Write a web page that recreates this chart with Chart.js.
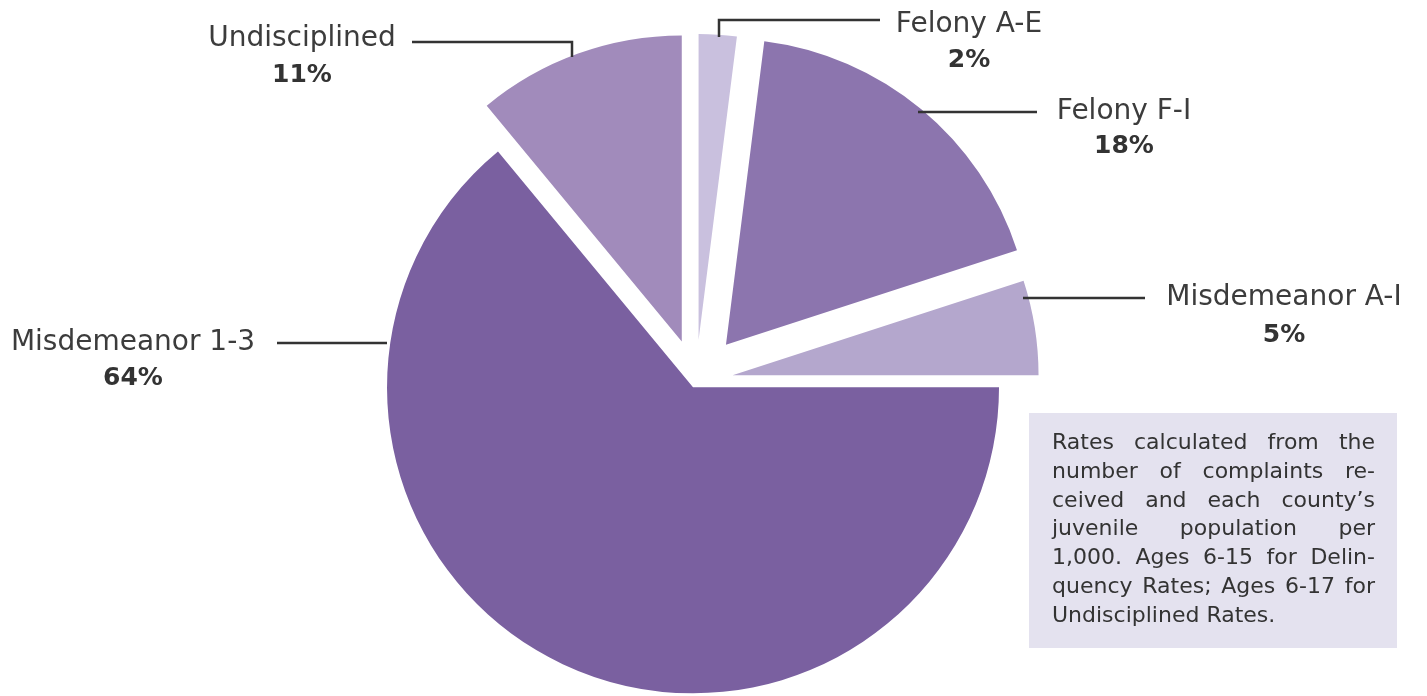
<!DOCTYPE html>
<html>
<head>
<meta charset="utf-8">
<script src="https://cdn.jsdelivr.net/npm/chart.js@4.4.1/dist/chart.umd.min.js"></script>
<style>
  html, body { margin: 0; padding: 0; background: #ffffff; }
  #wrap { width: 1427px; height: 696px; position: relative; }
</style>
</head>
<body>
<div id="wrap"><canvas id="myChart"></canvas></div>
<script>
// complaint shares by offense class, clockwise from 12 o'clock
const categories = ['Felony A-E', 'Felony F-I', 'Misdemeanor A-I', 'Misdemeanor 1-3', 'Undisciplined'];
const shares = [2, 18, 5, 64, 11];

const sliceColors = ['#c9c0de', '#8c75ae', '#b4a7cd', '#7a60a0', '#a18bbb'];
// how far each slice is pulled out, in px (Chart.js moves an arc by offset / 4)
const sliceShifts = [41, 47, 37, 7, 42];
const PIE_RADIUS = 306;

// label anchor (centre x, name baseline, percent baseline) and leader line path
const labelSpots = [
    {x: 969, y: 32, py: 67, line: [[719, 37], [719, 20], [880, 20]]},
    {x: 1124, y: 119, py: 153, line: [[918, 112], [1037, 112]]},
    {x: 1284, y: 305, py: 342, line: [[1023, 298], [1145, 298]]},
    {x: 133, y: 350, py: 385, line: [[277, 343], [387, 343]]},
    {x: 302, y: 46, py: 82, line: [[412, 42], [572, 42], [572, 57]]}
];

const noteLines = [
    'Rates calculated from the',
    'number of complaints re-',
    'ceived and each county\u2019s',
    'juvenile population per',
    '1,000. Ages 6-15 for Delin-',
    'quency Rates; Ages 6-17 for',
    'Undisciplined Rates.'
];

const FONT = '"DejaVu Sans", sans-serif';

// spread the words of one line so it fills the given width
function drawJustified(ctx, text, x, y, width, last) {
    let natural = ctx.measureText(text).width;
    if (last) {
        ctx.fillText(text, x, y);
        return;
    }
    if (natural >= width) {
        ctx.save();
        ctx.translate(x, y);
        ctx.scale(width / natural, 1);
        ctx.fillText(text, 0, 0);
        ctx.restore();
        return;
    }
    let words = text.split(' ');
    let used = 0;
    words.forEach(w => used += ctx.measureText(w).width);
    let gap = (width - used) / (words.length - 1);
    let cx = x;
    words.forEach(w => {
        ctx.fillText(w, cx, y);
        cx += ctx.measureText(w).width + gap;
    });
}

// an offset arc also grows its radius and loses a little angle;
// undo both so every slice keeps one radius and its true share
const keepRadius = {
    id: 'keepRadius',
    afterDatasetUpdate(chart, args) {
        args.meta.data.forEach(arc => {
            const shift = (arc.options.offset || 0) / 4;
            const fix = 1 - Math.sin(Math.min(Math.PI, arc.circumference));
            const grow = shift * fix;
            arc.outerRadius = PIE_RADIUS - grow;
            const widen = grow / Math.PI / PIE_RADIUS / 2;
            arc.startAngle -= widen;
            arc.endAngle += widen;
        });
    }
};

const labelPlugin = {
    id: 'sliceLabels',
    afterDraw(chart) {
        const ctx = chart.ctx;
        ctx.save();

        // leader lines
        ctx.strokeStyle = '#333333';
        ctx.lineWidth = 2.5;
        labelSpots.forEach(s => {
            ctx.beginPath();
            s.line.forEach((p, i) => i === 0 ? ctx.moveTo(p[0], p[1]) : ctx.lineTo(p[0], p[1]));
            ctx.stroke();
        });

        // category names and percentages
        ctx.textAlign = 'center';
        ctx.textBaseline = 'alphabetic';
        labelSpots.forEach((s, i) => {
            ctx.fillStyle = '#3c3c3c';
            ctx.font = '28px ' + FONT;
            ctx.fillText(categories[i], s.x, s.y);
            ctx.fillStyle = '#333333';
            ctx.font = 'bold 25px ' + FONT;
            ctx.fillText(shares[i] + '%', s.x, s.py);
        });

        // note box
        ctx.fillStyle = '#e4e2ef';
        ctx.fillRect(1029, 413, 368, 235);
        ctx.fillStyle = '#333333';
        ctx.textAlign = 'left';
        ctx.font = '22px ' + FONT;
        noteLines.forEach((t, i) => {
            drawJustified(ctx, t, 1052, 449 + i * 28.8, 323, i === noteLines.length - 1);
        });

        ctx.restore();
    }
};

const ctx = document.getElementById('myChart').getContext('2d');
const myChart = new Chart(ctx, {
    type: 'pie',
    data: {
        labels: categories,
        datasets: [{
            data: shares,
            backgroundColor: sliceColors,
            offset: sliceShifts.map(d => d * 4),
            borderWidth: 0,
            clip: false
        }]
    },
    options: {
        responsive: true,
        maintainAspectRatio: false,
        animation: false,
        radius: PIE_RADIUS,
        layout: {
            padding: {left: 0, right: 35, top: 66, bottom: 0}
        },
        plugins: {
            legend: {display: false},
            tooltip: {enabled: false}
        }
    },
    plugins: [keepRadius, labelPlugin]
});
</script>
</body>
</html>
